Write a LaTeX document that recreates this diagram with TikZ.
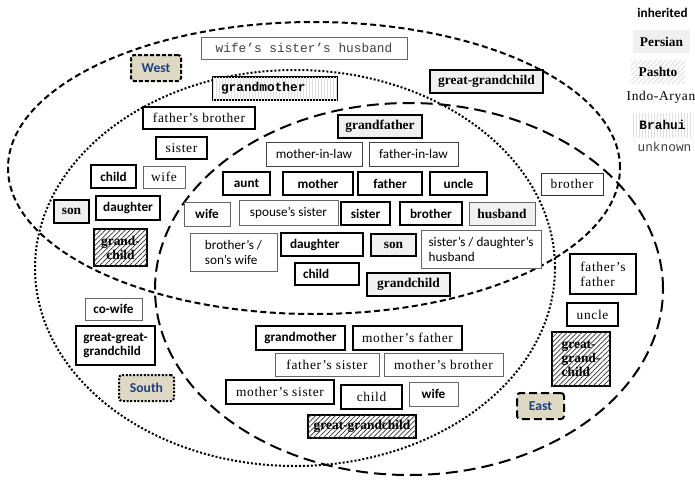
\documentclass[tikz,border=0pt]{standalone}
\usepackage{fontspec}
\setmainfont{Liberation Serif}
\newfontfamily\calfont{Carlito}
\newfontfamily\iafont[LetterSpace=5]{Liberation Serif}
\newfontfamily\monofont{Liberation Mono}
\usetikzlibrary{patterns.meta}
\definecolor{beige}{HTML}{DDD9C4}
\definecolor{regblue}{HTML}{1F3F7F}
\definecolor{pgray}{HTML}{F0F0F0}
\tikzset{
 bx/.style={rectangle, draw, fill=white, inner sep=0pt, align=center},
 thinb/.style={bx, line width=0.7pt, draw=black!60},
 medb/.style={bx, line width=1.3pt},
 thkb/.style={bx, line width=2.4pt},
 inh/.style={font=\calfont\bfseries\fontsize{13.2}{14}\selectfont},
 inhr/.style={font=\calfont\fontsize{13.2}{15}\selectfont},
 perfont/.style={font=\bfseries\fontsize{13.4}{14}\selectfont},
 per/.style={perfont, fill=pgray},
 hatch/.style={postaction={pattern={Lines[angle=45,distance=3.5pt,line width=0.7pt]}, pattern color=#1}},
 pas/.style={perfont, fill=white, hatch=black!80},
 ia/.style={font=\iafont\fontsize{13.4}{15}\selectfont},
 bra/.style={font=\monofont\bfseries\fontsize{12.8}{14}\selectfont},
 vlines/.style={postaction={pattern={Lines[angle=90,distance=3pt,line width=0.4pt]}, pattern color=black!12}},
 unk/.style={font=\monofont\fontsize{12.8}{14}\selectfont, text=black!75},
 sz/.style 2 args={minimum width=#1pt, minimum height=#2pt},
 region/.style={rectangle, rounded corners=3pt, fill=beige, line width=2pt, draw, text=regblue, font=\calfont\bfseries\fontsize{13.6}{14}\selectfont, inner sep=0pt},
 ell/.style={line width=2pt},
}
\begin{document}
\begin{tikzpicture}[x=1pt,y=-1pt]
\useasboundingbox (0,0) rectangle (695,479);
% region ellipses
\draw[ell, dash pattern=on 6pt off 3.5pt] (314,168) ellipse [x radius=306pt, y radius=146pt];
\draw[ell, dash pattern=on 2pt off 2pt] (295,268) ellipse [x radius=260pt, y radius=198pt];
\draw[ell, dash pattern=on 12pt off 6pt] (409,289) ellipse [x radius=254pt, y radius=186pt];
% boxes
\node[thinb,unk,sz={206}{22}] (wsh) at (304,48) {wife’s sister’s husband};
\node[region, dash pattern=on 4pt off 2pt, sz={50}{26}] (west) at (156,68) {West};
\node[thkb,bra,vlines,sz={124}{23},text width=108pt,align=left] (gm1) at (275,88.5) {grandmother};
\node[thkb,per,sz={113}{23}] (ggc1) at (486.5,81.5) {great-grandchild};
\node[medb,ia,sz={112}{22}] (fb) at (199,118) {father’s brother};
\node[thkb,per,sz={84}{23}] (gf) at (380,126.5) {grandfather};
\node[medb,ia,sz={51}{22}] (sis1) at (181.5,148) {sister};
\node[thinb,draw=black!75,inhr,sz={96}{24}] (mil) at (314,154) {mother-in-law};
\node[thinb,draw=black!75,inhr,sz={89}{24}] (fil) at (413.5,154) {father-in-law};
\node[thkb,inh,sz={45}{23}] (ch1) at (113.5,176.5) {child};
\node[thinb,ia,sz={42}{22}] (wf1) at (164,177) {wife};
\node[medb,inh,sz={47}{23}] (aunt) at (246.5,183.5) {aunt};
\node[thkb,inh,sz={70}{23}] (mo) at (318,183.5) {mother};
\node[thkb,inh,sz={64}{23}] (fa) at (390,183.5) {father};
\node[medb,inh,sz={57}{23}] (unc1) at (458.5,183.5) {uncle};
\node[thinb,draw=black!80,ia,sz={62}{22}] (br1) at (572,184) {brother};
\node[thkb,per,sz={35}{23}] (son1) at (71.5,211.5) {son};
\node[thkb,inh,sz={64}{24}] (da1) at (128,208) {daughter};
\node[thinb,inh,sz={46}{24}] (wf2) at (207,214) {wife};
\node[thinb,inhr,sz={99}{25}] (sps) at (288.5,212.5) {spouse’s sister};
\node[medb,inh,sz={49}{23}] (sis2) at (365.5,213.5) {sister};
\node[medb,inh,sz={62}{23}] (br2) at (431,213.5) {brother};
\node[thinb,per,sz={66}{23}] (hus) at (502,213.5) {husband};
\node[thkb,pas,sz={53}{37}] (gc1) at (120.5,247.5) {grand-\\child};
\node[thinb,inhr,sz={87}{38},align=left] (bsw) at (233.5,252) {brother’s /\\son’s wife};
\node[thkb,inh,sz={82}{23},text width=64pt,align=left] (da2) at (322,244.5) {daughter};
\node[thkb,per,sz={45}{22}] (son2) at (393.5,245) {son};
\node[thinb,inhr,sz={120}{38},align=left] (sdh) at (481,249) {sister’s / daughter’s\\husband};
\node[thkb,inh,sz={64}{22},text width=48pt,align=left] (ch2) at (327,274) {child};
\node[thkb,per,sz={83}{23}] (gc2) at (408.5,284.5) {grandchild};
\node[thinb,inh,sz={57}{22}] (cow) at (113.5,309) {co-wife};
\node[thkb,inh,sz={79}{39},align=left] (ggg) at (115.5,345.5) {great-great-\\grandchild};
\node[region, dash pattern=on 2pt off 1.6pt, sz={55}{26}] (south) at (146.5,388) {South};
\node[thkb,inh,sz={89}{24}] (gm2) at (300.5,338) {grandmother};
\node[thkb,ia,sz={109}{24}] (mf) at (407.5,338) {mother’s father};
\node[thinb,ia,sz={104}{23}] (fs) at (327,364.5) {father’s sister};
\node[thinb,ia,sz={119}{23}] (mb) at (443.5,364.5) {mother’s brother};
\node[medb,ia,sz={108}{24}] (ms) at (280,392) {mother’s sister};
\node[thkb,ia,sz={61}{24}] (ch3) at (371.5,397) {child};
\node[thinb,inh,sz={49}{24}] (wf3) at (433.5,394) {wife};
\node[thkb,pas,sz={108}{23}] (ggc2) at (362,426.5) {great-grandchild};
\node[thkb,ia,sz={66}{40},align=left] (ff) at (603,274) {father’s\\father};
\node[medb,ia,sz={51}{23}] (unc2) at (592.5,314.5) {uncle};
\node[thkb,pas,sz={58}{54},align=left] (ggc3) at (581,359) {great-\\grand-\\child};
\node[region, dash pattern=on 8pt off 4pt, sz={47}{26}] (east) at (540.5,406) {East};
% legend
\node[inh, inner sep=0pt] (l1) at (662.5,13) {inherited};
\node[per, inner sep=0pt, sz={57}{23}] (l2) at (661.5,41.5) {Persian};
\node[perfont, inner sep=0pt, sz={54}{23}, hatch=black!15] (l3) at (658,71.5) {Pashto};
\node[ia, inner sep=0pt] (l4) at (661,97) {Indo-Aryan};
\node[bra, inner sep=0pt, sz={61}{24}, vlines] (l5) at (662.5,125) {Brahui};
\node[unk, inner sep=0pt] (l6) at (664.5,147) {unknown};
\end{tikzpicture}
\end{document}
